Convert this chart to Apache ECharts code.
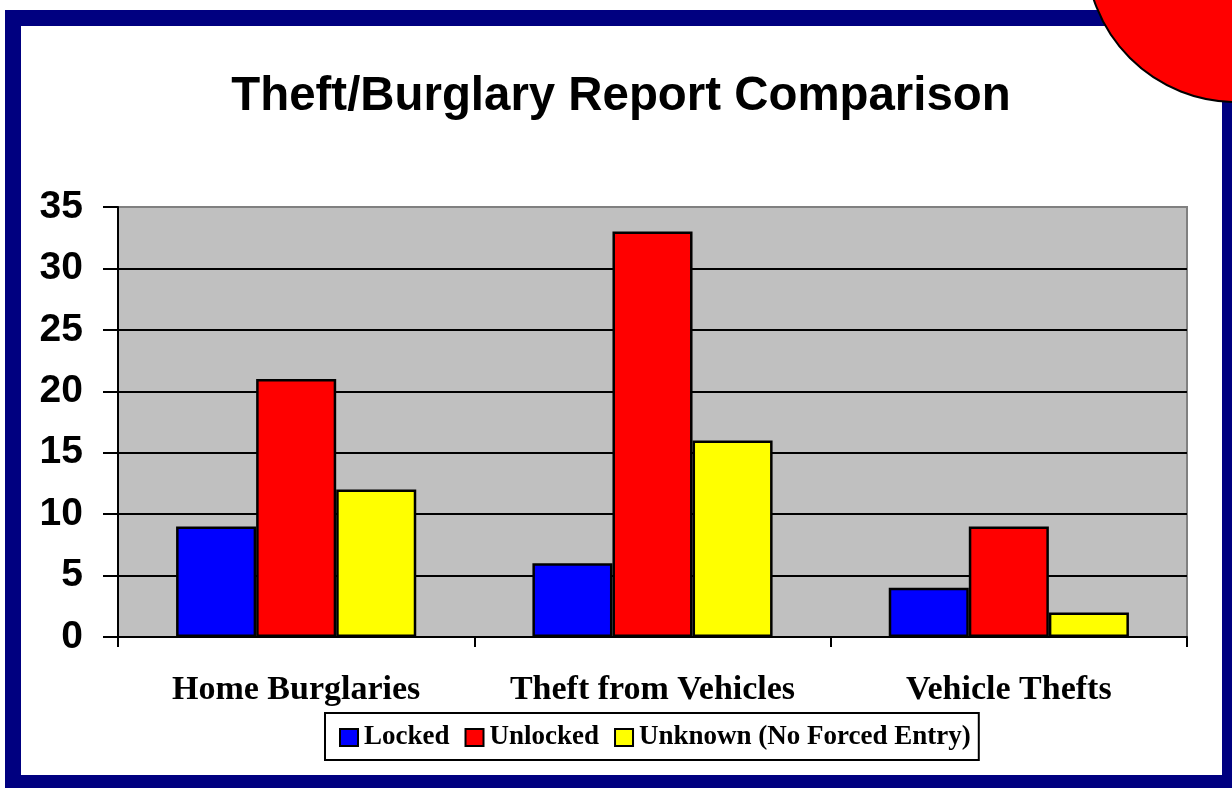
<!DOCTYPE html>
<html>
<head>
<meta charset="utf-8">
<script src="https://cdn.jsdelivr.net/npm/echarts@6/dist/echarts.min.js"></script>
<style>
  html, body { margin: 0; padding: 0; background: #fff; }
  #chart { width: 1232px; height: 788px; }
</style>
</head>
<body>
<div id="chart"></div>
<script>
const categories = ['Home Burglaries', 'Theft from Vehicles', 'Vehicle Thefts'];
const lockedValues = [9, 6, 4];
const unlockedValues = [21, 33, 9];
const unknownValues = [12, 16, 2];
const seriesNames = ['Locked', 'Unlocked', 'Unknown (No Forced Entry)'];
const seriesColors = ['#0000FF', '#FF0000', '#FFFF00'];
const yMin = 0, yMax = 35, yInterval = 5;

const chart = echarts.init(document.getElementById('chart'));
const sans = '"Liberation Sans", Arial, sans-serif';
const serif = '"Liberation Serif", "Times New Roman", serif';

function bar(name, data, color) {
  return {
    name: name,
    type: 'bar',
    data: data,
    barGap: '0%',
    barCategoryGap: '32.6%',
    itemStyle: { color: color, borderColor: '#000', borderWidth: 2.5 },
    emphasis: { disabled: true },
    animation: false
  };
}

chart.setOption({
  animation: false,
  backgroundColor: '#ffffff',
  title: {
    text: 'Theft/Burglary Report Comparison',
    left: 616,
    textAlign: 'center',
    top: 68,
    textStyle: { fontFamily: sans, fontWeight: 'bold', fontSize: 47.4, color: '#000' }
  },
  legend: {
    data: seriesNames,
    left: 325,
    top: 713,
    orient: 'horizontal',
    padding: [11, 8, 9, 14],
    itemWidth: 18,
    itemHeight: 17,
    itemGap: 15,
    borderColor: '#000',
    borderWidth: 2,
    backgroundColor: '#fff',
    icon: 'rect',
    textStyle: { fontFamily: serif, fontWeight: 'bold', fontSize: 27, color: '#000', padding: [0, 0, 0, 1] }
  },
  grid: {
    left: 118, right: 45, top: 207, bottom: 151,
    show: true,
    backgroundColor: '#C0C0C0',
    borderColor: '#808080',
    borderWidth: 2,
    containLabel: false
  },
  xAxis: {
    type: 'category',
    data: categories,
    axisLine: { lineStyle: { color: '#000', width: 2 } },
    axisTick: { show: true, interval: 0, length: 10, lineStyle: { color: '#000', width: 2 } },
    axisLabel: { interval: 0, hideOverlap: false, margin: 36, fontFamily: serif, fontWeight: 'bold', fontSize: 34, color: '#000' },
    splitLine: { show: false }
  },
  yAxis: {
    type: 'value',
    min: yMin, max: yMax, interval: yInterval,
    axisLine: { show: true, lineStyle: { color: '#000', width: 2 } },
    axisTick: { show: true, length: 15, lineStyle: { color: '#000', width: 2 } },
    axisLabel: { margin: 35, fontFamily: sans, fontWeight: 'bold', fontSize: 39, color: '#000' },
    splitLine: { show: true, showMaxLine: false, lineStyle: { color: '#000', width: 2 } }
  },
  series: [
    bar(seriesNames[0], lockedValues, seriesColors[0]),
    bar(seriesNames[1], unlockedValues, seriesColors[1]),
    bar(seriesNames[2], unknownValues, seriesColors[2])
  ],
  graphic: [
    {
      type: 'rect', silent: true, z: 100,
      shape: { x: 13, y: 18, width: 1217, height: 765 },
      style: { fill: 'none', stroke: '#000080', lineWidth: 16 }
    },
    {
      type: 'circle', silent: true, z: 101,
      shape: { cx: 1236, cy: -48, r: 150 },
      style: { fill: '#FF0000', stroke: '#000', lineWidth: 2 }
    }
  ]
});
</script>
</body>
</html>
